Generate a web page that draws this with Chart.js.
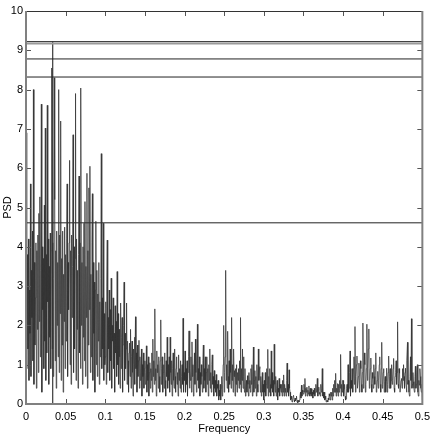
<!DOCTYPE html>
<html>
<head>
<meta charset="utf-8">
<script src="https://cdn.jsdelivr.net/npm/chart.js@4/dist/chart.umd.min.js"></script>
<style>
  html, body { margin: 0; padding: 0; background: #fff; }
  #wrap { width: 436px; height: 436px; }
</style>
</head>
<body>
<div id="wrap"><canvas id="psdChart"></canvas></div>
<script>
// frequency grid: 0 .. 0.5
const freqStep = 0.000625;

// PSD values, one block per 0.1 of frequency
// 0 .. 0.1
const psdA = [2.0, 6.9, 0.9, 3.8, 1.4, 4.2, 0.6, 2.9, 1.8, 5.6,
  0.7, 3.4, 2.2, 4.4, 1.1, 8.0, 0.5, 3.6, 1.5, 2.7,
  4.1, 0.4, 3.9, 1.9, 4.3, 0.8, 4.85, 2.1, 5.27, 1.2,
  3.4, 7.63, 0.3, 4.0, 2.4, 3.7, 0.9, 5.06, 1.6, 7.02,
  0.6, 3.8, 1.3, 7.6, 2.6, 4.2, 0.5, 3.5, 1.7, 4.35,
  0.9, 3.9, 8.55, 1.4, 4.1, 0.7, 3.2, 8.3, 5.2, 1.1,
  3.9, 0.4, 4.4, 2.0, 3.6, 1.2, 8.0, 0.8, 4.3, 2.3,
  7.2, 0.6, 3.7, 1.5, 4.4, 0.3, 3.3, 2.1, 4.5, 0.9,
  3.8, 1.6, 4.2, 5.6, 0.7, 3.6, 2.4, 4.1, 6.2, 1.0,
  3.9, 0.5, 4.3, 2.2, 3.5, 6.85, 0.8, 4.0, 1.4, 3.7,
  7.9, 0.6, 4.2, 1.9, 3.4, 0.4, 3.8, 5.8, 1.3, 4.1,
  0.9, 8.04, 2.0, 3.6, 0.5, 4.0, 1.7, 4.6, 1.1, 5.15,
  0.7, 3.5, 2.2, 5.87, 0.4, 3.9, 1.5, 5.5, 2.4, 6.05,
  0.8, 3.3, 1.2, 4.1, 5.35, 0.6, 3.6, 1.8, 3.1, 0.3,
  2.9, 4.65, 1.0, 3.4, 0.7, 2.8, 1.6, 3.6, 0.5, 2.6,
  1.2, 3.2, 6.37, 0.9, 2.7, 1.4, 4.6, 0.6, 2.3, 1.0];
// 0.1 .. 0.2
const psdB = [1.2, 2.6, 0.5, 3.0, 4.17, 0.8, 2.2, 1.4, 2.9, 0.6,
  2.4, 1.1, 3.2, 0.4, 2.0, 1.6, 2.7, 0.9, 1.8, 0.3,
  2.5, 1.3, 2.1, 0.7, 3.37, 1.0, 2.3, 0.5, 1.9, 1.2,
  0.4, 2.57, 0.9, 1.7, 2.2, 0.3, 1.5, 2.0, 3.1, 0.6,
  1.8, 0.9, 1.4, 2.57, 0.5, 1.6, 1.1, 0.3, 1.3, 1.55,
  0.7, 1.9, 0.4, 1.2, 1.6, 0.8, 0.2, 1.4, 1.0, 1.7,
  0.5, 2.22, 0.9, 1.3, 0.3, 1.5, 0.7, 1.1, 1.62, 0.4,
  1.2, 0.6, 0.9, 1.4, 0.2, 1.0, 0.7, 1.3, 0.4, 0.9,
  1.1, 0.5, 0.8, 1.48, 0.3, 1.0, 0.6, 1.2, 0.2, 0.8,
  1.05, 0.4, 0.9, 0.6, 1.3, 0.3, 1.65, 0.7, 1.1, 0.5,
  2.42, 0.6, 0.9, 0.2, 1.35, 0.8, 1.0, 0.4, 1.2, 0.7,
  0.3, 1.1, 2.14, 0.5, 0.9, 1.2, 0.3, 0.8, 1.0, 0.4,
  1.3, 0.6, 0.2, 1.1, 0.7, 1.7, 0.4, 1.0, 0.6, 1.2,
  0.3, 1.7, 0.8, 0.5, 1.1, 0.2, 0.9, 1.3, 0.6, 0.4,
  1.4, 0.7, 0.3, 0.9, 1.2, 0.5, 0.8, 0.2, 1.25, 0.6,
  0.9, 0.4, 1.1, 0.3, 0.7, 1.0, 0.5, 2.18, 0.3, 0.8];
// 0.2 .. 0.3
const psdC = [0.6, 1.35, 0.3, 0.9, 0.5, 1.1, 0.2, 0.8, 1.2, 1.86,
  0.4, 0.9, 0.6, 1.2, 0.3, 1.58, 0.7, 1.0, 0.2, 0.9,
  1.3, 0.5, 1.65, 0.8, 0.3, 1.1, 2.03, 0.6, 0.9, 0.4,
  1.2, 0.2, 0.8, 0.5, 1.0, 0.7, 0.3, 1.1, 1.5, 0.4,
  0.9, 0.6, 1.2, 0.3, 0.8, 1.2, 0.5, 0.9, 0.2, 1.0,
  0.6, 1.4, 0.4, 0.8, 0.3, 1.0, 1.25, 0.5, 0.7, 0.2,
  0.85, 0.4, 0.6, 0.3, 0.75, 0.2, 0.5, 0.4, 0.6, 0.1,
  0.35, 0.2, 0.5, 0.1, 0.4, 0.7, 0.2, 0.5, 1.0, 2.0,
  0.3, 0.8, 1.2, 3.4, 0.6, 1.0, 0.4, 1.85, 0.7, 0.3,
  1.1, 0.5, 1.4, 0.8, 0.4, 2.2, 0.6, 1.0, 0.3, 1.4,
  0.7, 0.85, 0.2, 0.9, 0.5, 1.0, 0.3, 0.8, 0.6, 0.9,
  0.4, 1.1, 0.5, 2.2, 0.3, 0.9, 0.6, 1.4, 0.4, 1.2,
  0.7, 0.3, 0.9, 0.2, 0.45, 0.6, 0.3, 0.72, 0.5, 0.2,
  0.8, 0.4, 0.6, 0.3, 0.9, 0.5, 1.0, 0.2, 0.7, 1.45,
  0.3, 0.6, 0.85, 0.4, 0.7, 0.2, 1.0, 0.5, 0.3, 1.4,
  0.6, 0.9, 0.95, 0.3, 0.7, 0.2, 0.5, 0.8, 0.3, 0.5];
// 0.3 .. 0.4
const psdD = [0.1, 0.6, 0.3, 0.8, 0.2, 0.5, 0.9, 0.4, 1.39, 0.2,
  0.7, 0.3, 0.9, 0.5, 0.2, 1.35, 0.4, 0.8, 0.3, 0.6,
  0.2, 1.52, 0.5, 0.3, 0.7, 0.2, 0.4, 0.6, 0.1, 0.4,
  0.3, 0.65, 0.2, 0.5, 0.4, 0.3, 0.5, 0.2, 0.6, 0.3,
  0.74, 0.2, 0.5, 0.3, 0.4, 0.2, 0.6, 1.04, 0.3, 0.5,
  0.2, 0.87, 0.4, 0.3, 0.1, 0.2, 0.13, 0.05, 0.1, 0.2,
  0.22, 0.1, 0.05, 0.15, 0.08, 0.13, 0.2, 0.05, 0.1, 0.03,
  0.09, 0.05, 0.1, 0.2, 0.3, 0.15, 0.48, 0.2, 0.35, 0.3,
  0.25, 0.5, 0.3, 0.65, 0.2, 0.4, 0.3, 0.43, 0.2, 0.35,
  0.25, 0.46, 0.3, 0.2, 0.4, 0.25, 0.39, 0.2, 0.3, 0.15,
  0.35, 0.25, 0.4, 0.2, 0.3, 0.5, 0.3, 0.4, 0.65, 0.2,
  0.35, 0.43, 0.25, 0.3, 0.2, 0.5, 0.3, 0.4, 0.9, 0.2,
  0.3, 0.15, 0.3, 0.1, 0.2, 0.13, 0.05, 0.1, 0.09, 0.05,
  0.15, 0.1, 0.26, 0.2, 0.1, 0.3, 0.2, 0.3, 0.1, 0.4,
  0.2, 0.5, 0.3, 0.6, 0.3, 0.78, 0.2, 0.4, 0.3, 0.52,
  0.2, 0.5, 0.3, 0.6, 0.4, 1.26, 0.2, 0.5, 0.3, 0.6];
// 0.4 .. 0.5 (last value at 0.5)
const psdE = [0.6, 0.2, 0.39, 0.5, 0.2, 0.1, 0.13, 0.4, 0.5, 0.3,
  1.0, 0.3, 0.4, 0.8, 1.35, 0.2, 0.6, 0.4, 0.9, 0.7,
  0.3, 0.9, 1.2, 0.5, 1.97, 0.3, 0.7, 1.0, 1.22, 0.4,
  0.4, 0.7, 1.04, 0.3, 0.6, 1.1, 0.9, 0.5, 0.3, 0.8,
  2.06, 0.4, 0.8, 1.3, 1.0, 0.3, 0.5, 0.9, 2.03, 0.6,
  0.9, 1.4, 1.91, 0.4, 0.6, 0.9, 1.17, 0.5, 0.3, 0.8,
  0.65, 0.4, 1.0, 0.7, 0.5, 0.9, 1.3, 0.3, 0.4, 0.6,
  0.83, 0.4, 0.6, 1.0, 1.2, 0.5, 0.3, 0.9, 1.57, 0.4,
  0.5, 0.8, 0.9, 0.3, 0.57, 0.7, 0.3, 0.6, 0.91, 0.3,
  0.5, 0.8, 1.22, 0.4, 0.7, 0.9, 0.4, 0.6, 1.0, 0.5,
  0.6, 0.9, 1.16, 0.4, 0.3, 0.7, 0.8, 1.1, 0.5, 0.8,
  2.09, 0.5, 0.4, 0.9, 0.78, 0.3, 0.3, 0.6, 0.65, 0.4,
  0.9, 0.6, 1.0, 0.7, 0.4, 0.8, 0.91, 0.5, 0.3, 1.1,
  1.57, 0.5, 0.6, 0.3, 0.2, 0.7, 1.2, 0.6, 2.17, 0.4,
  0.5, 0.8, 0.57, 0.4, 0.3, 0.7, 0.96, 0.4, 0.5, 0.8,
  1.0, 0.3, 0.2, 0.6, 0.48, 0.9, 0.7, 0.4, 0.3, 0.5,
  0.1];

// horizontal threshold levels and the marked peak frequency
const levelsDark = [9.22, 8.78, 8.32, 4.61];
const levelGray = 9.17;
const peakFreq = 0.03375;
const peakTop = 9.22;

const xTicks = [0, 0.05, 0.1, 0.15, 0.2, 0.25, 0.3, 0.35, 0.4, 0.45, 0.5];
const yTicks = [0, 1, 2, 3, 4, 5, 6, 7, 8, 9, 10];

const psd = [...psdA, ...psdB, ...psdC, ...psdD, ...psdE];
const psdPoints = psd.map((v, i) => ({ x: i * freqStep, y: v }));

const lineSet = (pts, color, width) => ({
  data: pts, borderColor: color, borderWidth: width,
  pointRadius: 0, fill: false, tension: 0
});

const datasets = [lineSet(psdPoints, "#333", 0.75)];
datasets.push(lineSet([{ x: 0, y: levelGray }, { x: 0.5, y: levelGray }], "#9a9a9a", 2));
levelsDark.forEach(l => {
  datasets.push(lineSet([{ x: 0, y: l }, { x: 0.5, y: l }], "#222", 1));
});
datasets.push(lineSet([{ x: peakFreq, y: 0 }, { x: peakFreq, y: peakTop }], "#111", 1));

// MATLAB-like box with ticks pointing inward
const boxTicks = {
  id: "boxTicks",
  afterDraw(chart) {
    const { ctx, chartArea: a, scales } = chart;
    const len = 5;
    ctx.save();
    ctx.lineWidth = 1;
    ctx.strokeStyle = "#555";
    xTicks.forEach(t => {
      const px = Math.round(scales.x.getPixelForValue(t)) + 0.5;
      ctx.beginPath();
      ctx.moveTo(px, a.bottom); ctx.lineTo(px, a.bottom - len);
      ctx.moveTo(px, a.top); ctx.lineTo(px, a.top + len);
      ctx.stroke();
    });
    yTicks.forEach(t => {
      const py = Math.round(scales.y.getPixelForValue(t)) + 0.5;
      ctx.beginPath();
      ctx.moveTo(a.left, py); ctx.lineTo(a.left + len, py);
      ctx.moveTo(a.right, py); ctx.lineTo(a.right - len, py);
      ctx.stroke();
    });
    ctx.strokeStyle = "#333";
    ctx.beginPath();
    ctx.moveTo(a.left, a.top + 0.5); ctx.lineTo(a.right, a.top + 0.5);
    ctx.stroke();
    ctx.strokeStyle = "#808080";
    ctx.lineWidth = 2;
    ctx.beginPath();
    ctx.moveTo(a.left, a.top); ctx.lineTo(a.left, a.bottom);
    ctx.lineTo(a.right, a.bottom); ctx.lineTo(a.right, a.top);
    ctx.stroke();
    ctx.restore();
  }
};

Chart.defaults.font.family = "'Liberation Sans', Arial, sans-serif";
Chart.defaults.font.size = 11;
Chart.defaults.color = "#000";

new Chart(document.getElementById("psdChart"), {
  type: "line",
  data: { datasets },
  options: {
    responsive: true,
    maintainAspectRatio: false,
    animation: false,
    layout: { padding: { top: 11, right: 10, left: 0, bottom: 0 } },
    plugins: { legend: { display: false }, tooltip: { enabled: false } },
    scales: {
      x: {
        type: "linear", min: 0, max: 0.5,
        afterFit: s => { s.height = 32; },
        afterBuildTicks: s => { s.ticks = xTicks.map(v => ({ value: v })); },
        grid: { display: false, drawTicks: false, tickLength: 0 },
        border: { display: false },
        ticks: {
          padding: 6, maxRotation: 0, autoSkip: false,
          callback: v => String(Number(v.toFixed(2)))
        },
        title: { display: true, text: "Frequency", padding: { top: 0, bottom: 0 } }
      },
      y: {
        min: 0, max: 10,
        afterFit: s => { s.width = 26; },
        afterBuildTicks: s => { s.ticks = yTicks.map(v => ({ value: v })); },
        grid: { display: false, drawTicks: false, tickLength: 0 },
        border: { display: false },
        ticks: { padding: 3, autoSkip: false },
        title: { display: true, text: "PSD", padding: { top: 1, bottom: 0 } }
      }
    }
  },
  plugins: [boxTicks]
});
</script>
</body>
</html>
